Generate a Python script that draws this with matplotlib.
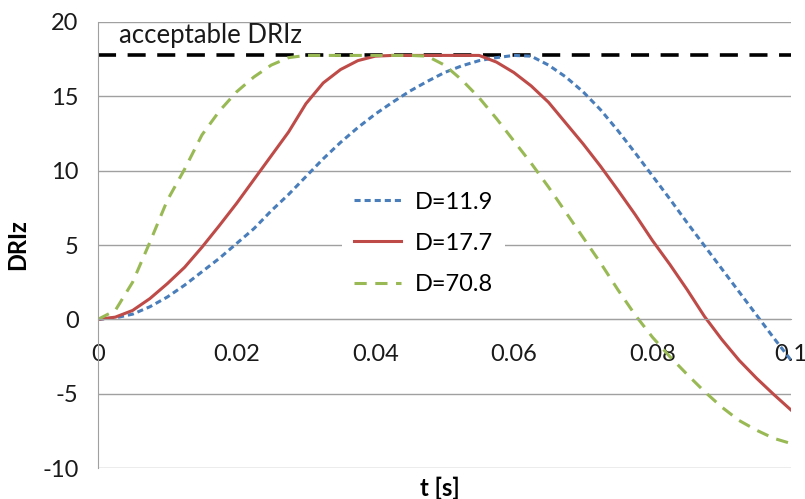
import numpy as np
import matplotlib.pyplot as plt

# data (t in s)
t = [0, 0.0025, 0.005, 0.0075, 0.01, 0.0125, 0.015, 0.0175, 0.02, 0.0225,
     0.025, 0.0275, 0.03, 0.0325, 0.035, 0.0375, 0.04, 0.0425, 0.045, 0.0475,
     0.05, 0.0525, 0.055, 0.0575, 0.06, 0.0625, 0.065, 0.0675, 0.07, 0.0725,
     0.075, 0.0775, 0.08, 0.0825, 0.085, 0.0875, 0.09, 0.0925, 0.095, 0.0975,
     0.1]
d_11_9 = [0, 0.1, 0.35, 0.85, 1.5, 2.3, 3.2, 4.1, 5.1, 6.1,
          7.3, 8.4, 9.6, 10.8, 11.9, 12.9, 13.8, 14.6, 15.35, 16.0,
          16.6, 17.05, 17.4, 17.6, 17.75, 17.7, 17.1, 16.3, 15.3, 14.1,
          12.7, 11.2, 9.65, 8.1, 6.5, 4.95, 3.4, 1.85, 0.3, -1.25,
          -2.75]
d_17_7 = [0, 0.15, 0.6, 1.4, 2.4, 3.5, 4.85, 6.3, 7.8, 9.4,
          11.0, 12.6, 14.5, 15.9, 16.8, 17.4, 17.7, 17.75, 17.75, 17.75,
          17.75, 17.75, 17.75, 17.3, 16.6, 15.7, 14.6, 13.2, 11.8, 10.3,
          8.7, 7.05, 5.3, 3.7, 2.0, 0.2, -1.35, -2.75, -3.95, -5.05,
          -6.1]
d_70_8 = [0, 0.6, 2.5, 5.2, 8.0, 10.1, 12.4, 14.0, 15.3, 16.3,
          17.1, 17.6, 17.75, 17.75, 17.75, 17.75, 17.75, 17.75, 17.75, 17.7,
          17.1, 16.1, 14.9, 13.5, 12.0, 10.5, 8.9, 7.2, 5.5, 3.8,
          2.0, 0.3, -1.2, -2.5, -3.7, -4.85, -5.9, -6.8, -7.45, -8.0,
          -8.35]
acceptable = 17.8

xticks = [0, 0.02, 0.04, 0.06, 0.08, 0.1]
xticklabels = ['0', '0.02', '0.04', '0.06', '0.08', '0.1']
yticks = [-10, -5, 0, 5, 10, 15, 20]


def main():
    plt.rcParams['font.family'] = ['Lato', 'DejaVu Sans']
    plt.rcParams['axes.unicode_minus'] = False
    fig = plt.figure(figsize=(8.05, 4.99), dpi=100)
    ax = fig.add_axes([0.1217, 0.062, 0.861, 0.894])

    ax.set_xlim(0, 0.1)
    ax.set_ylim(-10, 20)
    ax.set_yticks(yticks)
    ax.set_xticks(xticks)
    ax.set_xticklabels(xticklabels)
    ax.grid(axis='y', color='#a0a0a0', lw=1)
    ax.set_axisbelow(True)

    for s in ['top', 'right']:
        ax.spines[s].set_visible(False)
    ax.spines['left'].set_color('#a0a0a0')
    ax.spines['bottom'].set_position(('data', 0))
    ax.spines['bottom'].set_color('#a0a0a0')
    ax.tick_params(length=0, labelsize=17, colors='#1a1a1a')
    ax.tick_params(axis='x', pad=18)
    ax.tick_params(axis='y', pad=14)

    ax.axhline(acceptable, color='black', lw=2.6, dashes=(5, 3.2))
    ax.plot(t, d_11_9, color='#4a7ebb', lw=2.2, dashes=(2, 1.3), label='D=11.9')
    ax.plot(t, d_17_7, color='#be4b48', lw=2.2, label='D=17.7')
    ax.plot(t, d_70_8, color='#98b954', lw=2.2, dashes=(4, 2.8), label='D=70.8')

    ax.text(0.0031, 18.6, 'acceptable DRIz', fontsize=18.5, color='#1a1a1a')
    ax.set_xlabel('t [s]', fontsize=17, fontweight='bold', labelpad=0)
    ax.xaxis.set_label_coords(0.493, -0.02)
    ax.set_ylabel('DRIz', fontsize=17, fontweight='bold')
    ax.yaxis.set_label_coords(-0.1, 0.5)

    leg = ax.legend(loc='center left', bbox_to_anchor=(0.335, 0.504),
                    frameon=True, fontsize=17, handlelength=2.0,
                    labelspacing=0.85, borderpad=0.5, handletextpad=0.6)
    leg.get_frame().set_edgecolor('none')
    leg.get_frame().set_facecolor('white')
    leg.get_frame().set_alpha(1)

    fig.savefig('out.png', dpi=100)


if __name__ == "__main__":
    main()
